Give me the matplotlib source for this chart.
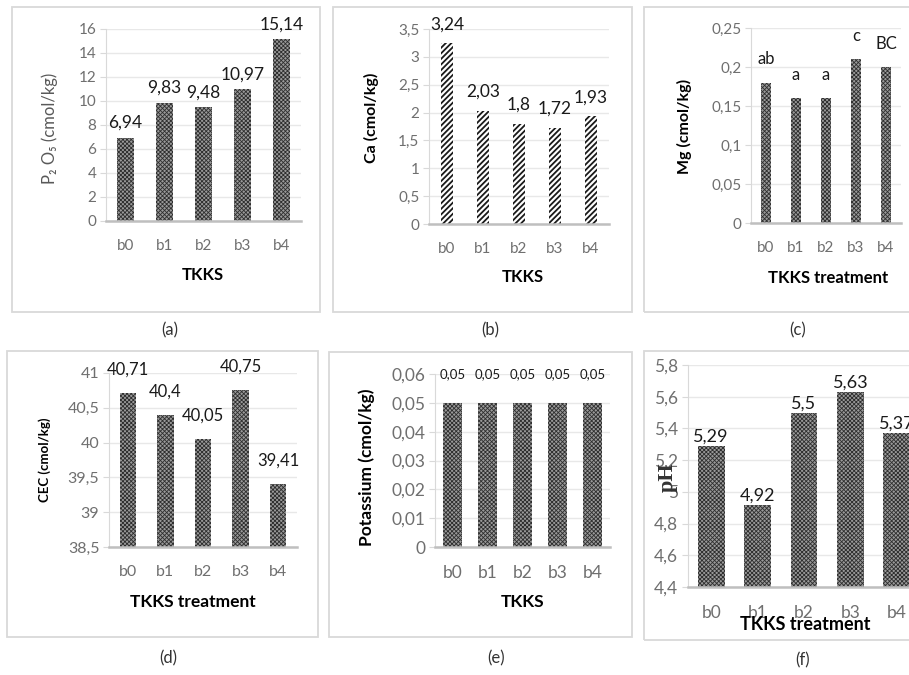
import numpy as np
import matplotlib
matplotlib.use('Agg')
import matplotlib.pyplot as plt
from matplotlib.patches import Rectangle
from matplotlib.ticker import FuncFormatter

plt.rcParams['font.family'] = ['Lato', 'DejaVu Sans']
plt.rcParams['hatch.linewidth'] = 0.6

# data
treatments = ['b0', 'b1', 'b2', 'b3', 'b4']
p2o5 = [6.94, 9.83, 9.48, 10.97, 15.14]
calcium = [3.24, 2.03, 1.8, 1.72, 1.93]
magnesium = [0.18, 0.16, 0.16, 0.21, 0.20]
mg_letters = ['ab', 'a', 'a', 'c', 'BC']
cec = [40.71, 40.4, 40.05, 40.75, 39.41]
potassium = [0.05, 0.05, 0.05, 0.05, 0.05]
ph = [5.29, 4.92, 5.5, 5.63, 5.37]

W, H = 909, 675
fig = plt.figure(figsize=(W / 100, H / 100), dpi=100)


def comma(v, pos=None):
    return ('%g' % round(v, 4)).replace('.', ',')


def px_axes(x0, x1, ytop, ybot):
    return fig.add_axes([x0 / W, 1 - ybot / H, (x1 - x0) / W, (ybot - ytop) / H])


def ftext(x, y, s, **kw):
    kw.setdefault('ha', 'center')
    kw.setdefault('va', 'center')
    fig.text(x / W, 1 - y / H, s, **kw)


def box(x0, y0, x1, y1):
    fig.add_artist(Rectangle((x0 / W, 1 - y1 / H), (x1 - x0) / W, (y1 - y0) / H,
                             transform=fig.transFigure, fill=False,
                             edgecolor='#d9d9d9', lw=1.3))


def style(ax, lo, hi, step, fs, xpad):
    ax.set_xlim(-0.5, 4.5)
    ax.set_ylim(lo, hi)
    ax.set_yticks(np.arange(lo, hi + step / 2, step))
    ax.yaxis.set_major_formatter(FuncFormatter(comma))
    ax.grid(axis='y', color='#e8e8e8', lw=1)
    ax.set_axisbelow(True)
    for s in ['top', 'right']:
        ax.spines[s].set_visible(False)
    ax.spines['left'].set_color('#d9d9d9')
    ax.spines['bottom'].set_color('#bfbfbf')
    ax.spines['bottom'].set_linewidth(1.8)
    ax.tick_params(axis='y', length=4, color='#d9d9d9', labelsize=fs,
                   labelcolor='#6f6f6f', pad=3)
    ax.tick_params(axis='x', length=0, labelsize=fs, labelcolor='#6f6f6f', pad=xpad)
    ax.set_xticks(range(len(treatments)))
    ax.set_xticklabels(treatments)


def dotted_bars(ax, vals, width, bottom=0):
    heights = [v - bottom for v in vals]
    ax.bar(range(len(vals)), heights, width, bottom=bottom, color='#9a9a9a',
           edgecolor='#2e2e2e', lw=0, hatch='xxxxxxxx')


def value_labels(ax, vals, labels, off, fs):
    for i, (v, t) in enumerate(zip(vals, labels)):
        ax.annotate(t, (i, v), xytext=(0, off), textcoords='offset points',
                    ha='center', va='bottom', fontsize=fs, color='#1a1a1a',
                    annotation_clip=False)


# panel frames
box(12, 7, 320, 312)
box(333, 7, 632, 312)
box(644, 7, 960, 312)
box(7, 351, 318, 637)
box(329, 352, 632, 637)
box(644, 351, 960, 640)

# (a) P2O5
ax = px_axes(106, 301, 29, 221)
style(ax, 0, 16, 2, 11, 13)
dotted_bars(ax, p2o5, 0.44)
value_labels(ax, p2o5, [comma(v) for v in p2o5], 5, 12.5)
ftext(50, 128, 'P₂ O₅ (cmol/kg)', rotation=90, fontsize=12, color='#595959')
ftext(203, 275, 'TKKS', fontsize=12, fontweight='bold')
ftext(170, 330, '(a)', fontsize=12, color='#333333')

# (b) Ca
ax = px_axes(429, 609, 29, 224)
style(ax, 0, 3.5, 0.5, 11, 13)
with plt.rc_context({'hatch.linewidth': 1.3}):
    bars = ax.bar(range(len(calcium)), calcium, 0.34, color='white',
                  edgecolor='#1a1a1a', lw=0, hatch='//////')
    for b in bars:
        if hasattr(b, 'set_hatch_linewidth'):
            b.set_hatch_linewidth(1.3)
value_labels(ax, calcium, [comma(v) for v in calcium], 8, 12.5)
ftext(371, 118, 'Ca (cmol/kg)', rotation=90, fontsize=11.5, fontweight='bold')
ftext(523, 277, 'TKKS', fontsize=12, fontweight='bold')
ftext(490, 330, '(b)', fontsize=12, color='#333333')

# (c) Mg
ax = px_axes(751, 901, 28, 223)
style(ax, 0, 0.25, 0.05, 11, 13)
dotted_bars(ax, magnesium, 0.34)
value_labels(ax, magnesium, mg_letters, 11, 12)
ftext(684, 126, 'Mg (cmol/kg)', rotation=90, fontsize=11.5, fontweight='bold')
ftext(828, 278, 'TKKS treatment', fontsize=12, fontweight='bold')
ftext(798, 330, '(c)', fontsize=12, color='#333333')

# (d) CEC
ax = px_axes(109, 297, 373, 547)
style(ax, 38.5, 41, 0.5, 11.5, 13)
dotted_bars(ax, cec, 0.44, bottom=38.5)
value_labels(ax, cec, [comma(v) for v in cec], 11, 12)
ftext(45, 460, 'CEC (cmol/kg)', rotation=90, fontsize=9.5, fontweight='bold')
ftext(193, 602, 'TKKS treatment', fontsize=12.5, fontweight='bold')
ftext(168, 658, '(d)', fontsize=12, color='#333333')

# (e) Potassium
ax = px_axes(435, 610, 374, 547)
style(ax, 0, 0.06, 0.01, 12.5, 13)
dotted_bars(ax, potassium, 0.57)
value_labels(ax, potassium, [comma(v) for v in potassium], 16, 9.5)
ftext(367, 467, 'Potassium (cmol/kg)', rotation=90, fontsize=12.5, fontweight='bold')
ftext(523, 602, 'TKKS', fontsize=12.5, fontweight='bold')
ftext(496, 658, '(e)', fontsize=12, color='#333333')

# (f) pH
ax = px_axes(688, 920, 365, 587)
style(ax, 4.4, 5.8, 0.2, 12.5, 13)
dotted_bars(ax, ph, 0.58, bottom=4.4)
value_labels(ax, ph, [comma(v) for v in ph], 1, 13)
ftext(668, 477, 'pH', rotation=90, fontsize=16, fontweight='bold',
      family=['Liberation Serif', 'DejaVu Serif'], color='#333333')
ftext(805, 625, 'TKKS treatment', fontsize=13, fontweight='bold')
ftext(803, 660, '(f)', fontsize=12, color='#333333')

fig.savefig('out.png', dpi=100)
